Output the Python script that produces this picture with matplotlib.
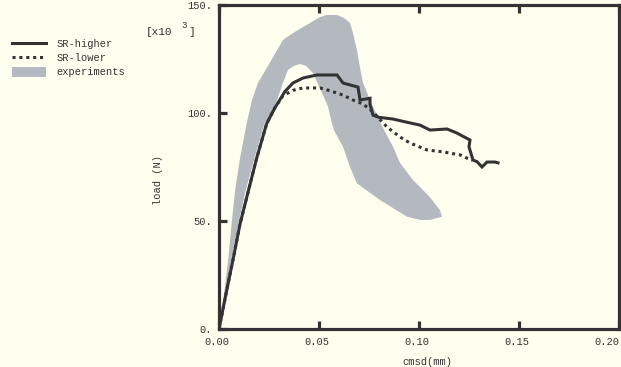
import matplotlib
matplotlib.use("Agg")
import matplotlib.pyplot as plt
from matplotlib.patches import Patch
from matplotlib.lines import Line2D
from matplotlib.transforms import ScaledTranslation

# ---- data (cmsd in mm, load in kN i.e. x10^3 N) ----
sr_higher_x = [0, 0.0038, 0.0072, 0.0105, 0.0147, 0.0188, 0.0238, 0.028, 0.033, 0.037,
               0.042, 0.049, 0.059, 0.062, 0.0655, 0.0695, 0.0705, 0.0755, 0.0755, 0.077,
               0.080, 0.087, 0.0955, 0.1005, 0.1055, 0.114, 0.119, 0.1255, 0.125, 0.127,
               0.129, 0.1315, 0.134, 0.138, 0.1395]
sr_higher_y = [0, 17.6, 33, 48.6, 64, 79, 95, 102.5, 110, 113.9,
               116.2, 117.6, 117.6, 113.9, 113, 112, 106, 106.8, 104, 99,
               98, 97.2, 95.4, 94.4, 92.1, 92.6, 90.7, 87.5, 84.3, 78.2,
               77.5, 75, 77.3, 77.3, 76.9]

sr_lower_x = [0, 0.0038, 0.0072, 0.0105, 0.0147, 0.0188, 0.0238, 0.028, 0.032, 0.037,
              0.042, 0.0505, 0.0555, 0.062, 0.067, 0.072, 0.077, 0.084, 0.0905, 0.0955,
              0.104, 0.112, 0.1205, 0.1265]
sr_lower_y = [0, 17.6, 33, 48.6, 64, 79, 95, 102.5, 108, 110.5,
              111.6, 111.6, 110.3, 108.3, 106, 104.2, 100.5, 93.5, 88.9, 86.1,
              82.9, 82, 80.6, 78]

# experiments envelope: outer boundary then inner boundary (closed polygon)
exp_x = [0.0008, 0.0015, 0.0027, 0.0047, 0.0063, 0.008, 0.0105, 0.0138, 0.0165, 0.018,
         0.0195, 0.024, 0.029, 0.032, 0.037, 0.0455, 0.0505, 0.054, 0.059, 0.0625,
         0.0655, 0.067, 0.069, 0.0705, 0.072, 0.0755, 0.0795, 0.0815, 0.087,
         0.0905, 0.097, 0.1055, 0.1105, 0.1115,
         0.1055, 0.1005, 0.094, 0.0805, 0.069, 0.0655, 0.062, 0.0575, 0.056, 0.0545,
         0.0515, 0.047, 0.0435, 0.0405, 0.0375, 0.0345, 0.032, 0.029, 0.0262, 0.0227,
         0.0177, 0.0133, 0.0097, 0.0063, 0.0035, 0.0012]
exp_y = [4, 10, 17.6, 33, 48.6, 64, 79, 95, 106, 110,
         114, 121, 129, 133.8, 137, 141.7, 144.4, 145.4, 145.4, 144,
         141.7, 137, 129, 121, 114, 106, 98, 94, 84.4,
         76.9, 69, 61, 55, 52,
         50.5, 50.5, 52, 59.7, 67.4, 75, 84.4, 92, 97, 103,
         109.3, 118.5, 121.8, 122.7, 121.8, 120, 113.9, 106, 100, 95,
         79, 64, 48.6, 33, 17, 5]

x_ticks = [0.0, 0.05, 0.10, 0.15, 0.20]
x_tick_labels = ["0.00", "0.05", "0.10", "0.15", "0.20"]
y_ticks = [0, 50, 100, 150]
y_tick_labels = ["0.", "50.", "100.", "150."]

BG = "#fffff0"
INK = "#333333"
GRAY = "#b4b9c0"
FONT = "Liberation Mono"
FS = 7.5

fig = plt.figure(figsize=(6.21, 3.67), dpi=100, facecolor=BG)
W, H = 621, 367
ax = fig.add_axes([219 / W, 1 - 329 / H, 400 / W, 324 / H], facecolor=BG)

ax.fill(exp_x, exp_y, color=GRAY, lw=0, zorder=1)
ax.plot(sr_higher_x, sr_higher_y, color=INK, lw=2.2, solid_joinstyle="miter", zorder=3)
ax.plot(sr_lower_x, sr_lower_y, color=INK, lw=2.2, linestyle=(0, (1, 1.25)), zorder=3)

ax.set_xlim(0, 0.20)
ax.set_ylim(0, 150)

for s in ax.spines.values():
    s.set_color(INK)
    s.set_linewidth(2.3)

ax.set_xticks(x_ticks)
ax.set_xticklabels(x_tick_labels, fontfamily=FONT, fontsize=FS, color=INK)
ax.set_yticks(y_ticks)
ax.set_yticklabels(y_tick_labels, fontfamily=FONT, fontsize=FS, color=INK)
ax.tick_params(axis="x", direction="in", length=6, width=2.3, color=INK, pad=6,
               top=True, bottom=True)
ax.tick_params(axis="y", direction="in", length=6, width=2.3, color=INK, pad=5,
               left=True, right=False)

shift = ScaledTranslation(-2 / 100, 0, fig.dpi_scale_trans)
xlabels = ax.get_xticklabels()
for lab in xlabels:
    lab.set_transform(lab.get_transform() + shift)
last = ax.xaxis.get_major_ticks()[-1].label1
last.set_horizontalalignment("right")
last.set_transform(last.get_transform() + ScaledTranslation(2 / 100, 0, fig.dpi_scale_trans))

# axis titles
fig.text(427 / W, 1 - 362 / H, "cmsd(mm)", fontfamily=FONT, fontsize=FS, color=INK,
         ha="center", va="center")
fig.text(158 / W, 1 - 180 / H, "load (N)", fontfamily=FONT, fontsize=FS, color=INK,
         ha="center", va="center", rotation=90)
fig.text(146 / W, 1 - 32 / H, "[x10", fontfamily=FONT, fontsize=FS + 0.5, color=INK,
         ha="left", va="center")
fig.text(181 / W, 1 - 25 / H, "3", fontfamily=FONT, fontsize=FS - 1, color=INK,
         ha="left", va="center")
fig.text(188 / W, 1 - 32 / H, "]", fontfamily=FONT, fontsize=FS + 0.5, color=INK,
         ha="left", va="center")

handles = [
    Line2D([], [], color=INK, lw=2.2),
    Line2D([], [], color=INK, lw=2.2, linestyle=(0, (1, 1.25))),
    Patch(facecolor=GRAY, edgecolor="none"),
]
labels = ["SR-higher", "SR-lower", "experiments"]
fig.legend(handles, labels, loc="upper left", bbox_to_anchor=(12 / W, 1 - 39 / H),
           frameon=False, borderpad=0, borderaxespad=0, handlelength=3.3,
           handleheight=1.05, handletextpad=1.0, labelspacing=0.35,
           prop={"family": FONT, "size": FS}, labelcolor=INK)

fig.savefig("out.png", dpi=100, facecolor=BG)
